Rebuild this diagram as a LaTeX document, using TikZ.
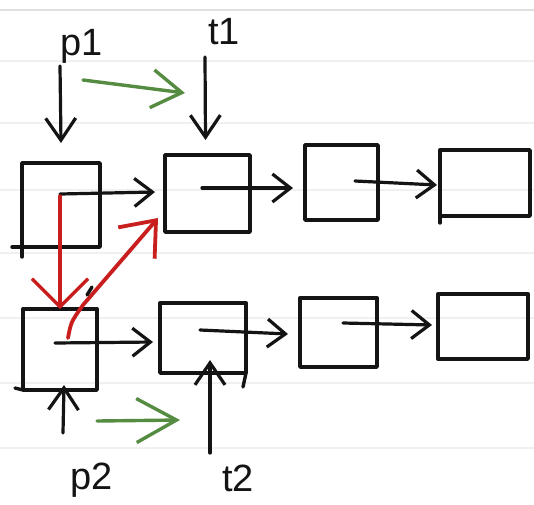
\documentclass[tikz,border=0pt]{standalone}
\usepackage{fontspec}
\setmainfont{Liberation Sans}
\usetikzlibrary{arrows.meta,calc}
\definecolor{ink}{RGB}{20,20,20}
\definecolor{penred}{RGB}{200,30,30}
\definecolor{pengreen}{RGB}{85,140,65}
\begin{document}
\begin{tikzpicture}[x=1pt,y=-1pt,line cap=round,line join=round,
  box/.style={draw=ink,line width=3.4pt,inner sep=0pt,outer sep=0pt,rectangle},
  arr/.style={draw=ink,line width=3.2pt,-{Straight Barb[length=18pt,width=28pt]}},
  varr/.style={draw=ink,line width=3.2pt,-{Straight Barb[length=22pt,width=30pt]}},
  garr/.style={draw=pengreen,line width=3.4pt,-{Straight Barb[length=#1]}},
  rarr/.style={draw=penred,line width=3.2pt,-{Straight Barb[length=28pt,width=56pt]}},
  rarrd/.style={draw=penred,line width=3.8pt,-{Straight Barb[length=30pt,width=48pt]}},
  lbl/.style={inner sep=0pt,font=\fontsize{38}{42}\selectfont,text=ink},
  extra/.style={draw=ink,line width=3.4pt}]
\useasboundingbox (0,0) rectangle (534,504);
\fill[white] (0,0) rectangle (534,504);
\foreach \yy in {61,123,190,253,318,383,448}
  \draw[black!6,line width=1.5pt] (0,\yy) -- (534,\yy);
\draw[black!12,line width=2pt] (0,10) -- (534,10);

% boxes
\node[box,minimum width=78pt,minimum height=84pt] (A1) at (61,205) {};
\node[box,minimum width=85pt,minimum height=77pt] (B1) at (207.5,193.5) {};
\node[box,minimum width=73pt,minimum height=75pt] (C1) at (341.5,182.5) {};
\node[box,minimum width=90pt,minimum height=66pt] (D1) at (485,183) {};
\node[box,minimum width=74pt,minimum height=81pt] (A2) at (60,349.5) {};
\node[box,minimum width=86pt,minimum height=70pt] (B2) at (203,338) {};
\node[box,minimum width=77pt,minimum height=69pt] (C2) at (338.5,332.5) {};
\node[box,minimum width=90pt,minimum height=65pt] (D2) at (483,326.5) {};

% hand-drawn overshoots
\draw[extra] (A1.south west) -- ++(0,10);
\draw[extra] (A1.south west) -- ++(-10,0);
\draw[extra] (A2.south west) -- ++(-8,-2);
\draw[extra] (B2.south east) -- ++(-3,14);
\draw[extra] (D1.south west) -- ++(0,7);

% pointer fields
\coordinate (A1p) at (60,194);
\coordinate (B1p) at (202,188);
\coordinate (C1p) at (355,181);
\coordinate (A2p) at (55,343);
\coordinate (B2p) at (200,330);
\coordinate (C2p) at (343,323);

% next arrows
\draw[arr] (A1p) -- ([xshift=-10pt,yshift=1.5pt]B1.west);
\draw[arr] (B1p) -- ([xshift=-12pt,yshift=-5.5pt]C1.west);
\draw[arr] (C1p) -- ([xshift=-3pt,yshift=-2pt]D1.west);
\draw[arr] (A2p) -- ([xshift=-7pt,yshift=-4pt]B2.west);
\draw[arr] (B2p) -- ([xshift=-12pt,yshift=-1.5pt]C2.west);
\draw[arr] (C2p) -- ([xshift=-6pt,yshift=1.5pt]D2.west);

% labels
\node[lbl] (p1) at (82,46) {p1};
\node[lbl] (t1) at (224,32) {t1};
\node[lbl] (p2) at (92,480) {p2};
\node[lbl] (t2) at (238,478) {t2};

\coordinate (p1s) at (60,66);
\coordinate (t1s) at (205,57);
\coordinate (p2s) at (63,433);
\coordinate (t2s) at (210,453);
\draw[varr] (p1s) -- ([yshift=20pt]A1.north);
\draw[varr] (t1s) -- ([xshift=-2pt,yshift=15pt]B1.north);
\draw[varr] (p2s) -- ([xshift=4pt,yshift=5pt]A2.south);
\draw[varr] (t2s) -- ([xshift=7pt,yshift=13pt]B2.south);

% green step arrows
\coordinate (g1s) at (83,80);
\coordinate (g1e) at (185,93);
\coordinate (g2s) at (97,421);
\coordinate (g2e) at (180,420);
\draw[garr={30pt,width=38pt}] (g1s) -- (g1e);
\draw[garr={40pt,width=44pt}] (g2s) -- (g2e);

% red arrows
\draw[rarr] ([yshift=-2pt]A1p) -- (A2.north);
\coordinate (A2r) at (68,338);
\draw[rarrd] (A2r) .. controls (71,322) .. (83,305) -- ([xshift=-7pt,yshift=14pt]B1.south west);

% small tick
\draw[extra] (87,295) -- (92,287);
\end{tikzpicture}
\end{document}
